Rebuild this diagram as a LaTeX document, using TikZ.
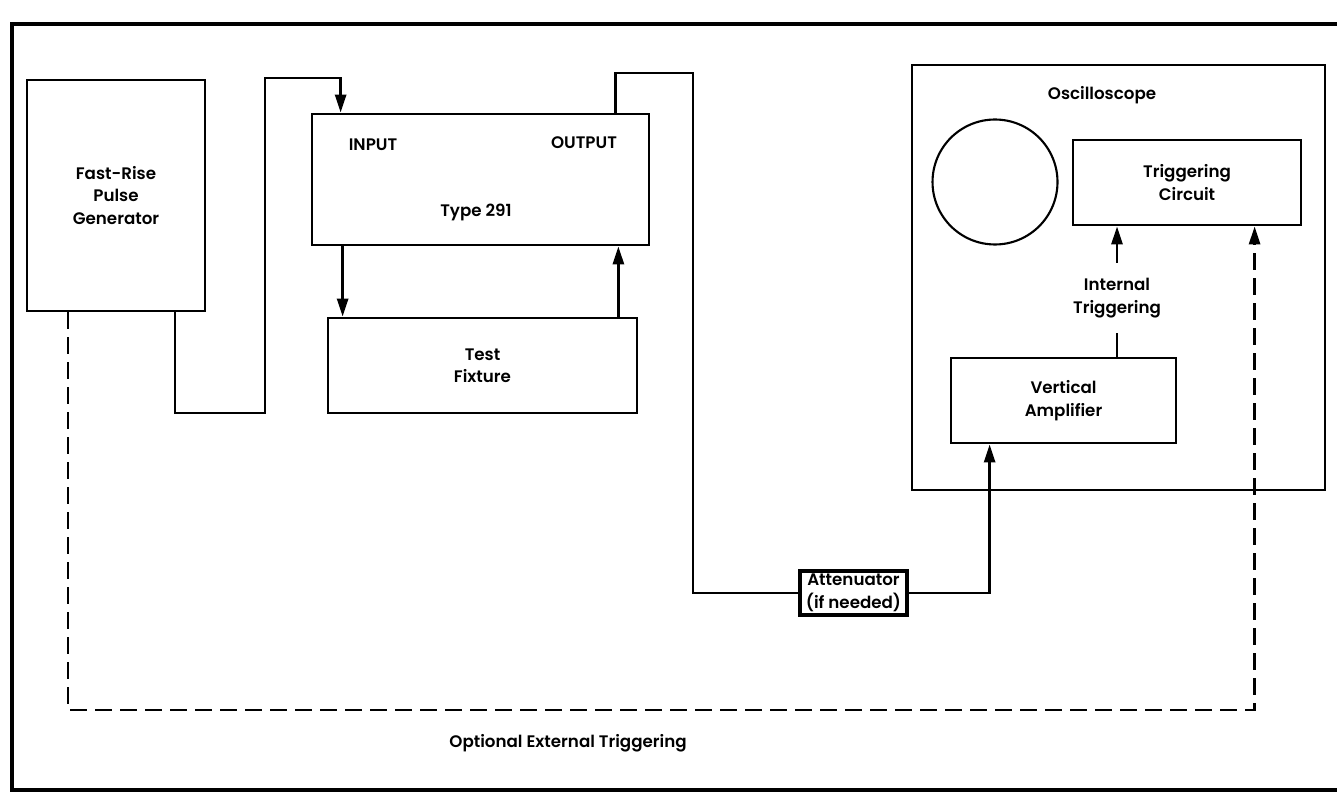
\documentclass[tikz,border=0pt]{standalone}
\usepackage{fontspec}
\setmainfont{Poppins SemiBold}
\usetikzlibrary{arrows.meta, positioning, calc}

\begin{document}
\begin{tikzpicture}[
    x=0.02cm, y=-0.02cm,
    block/.style={rectangle, draw, line width=1.6pt, align=center, inner sep=0pt, font=\fontsize{9.5}{12.8}\selectfont},
    tag/.style={align=center, inner sep=0pt, font=\fontsize{9.5}{12.8}\selectfont},
    wire/.style={draw, line width=1.6pt},
    line/.style={draw, line width=1.6pt, -{Triangle[length=3.6mm,width=2.2mm]}},
    dashline/.style={draw, line width=1.6pt, dash pattern=on 0.34cm off 0.16cm}
]
    \useasboundingbox (0,0) rectangle (1337,800);

    % Frame
    \draw[line width=2.6pt] (1337,24) -| (12,790) -- (1337,790);

    % Nodes
    \node[block, minimum width=3.56cm, minimum height=4.62cm] (gen) at (116,195.5) {Fast-Rise\\Pulse\\Generator};
    \node[block, minimum width=6.74cm, minimum height=2.62cm] (t291) at (480.5,179.5) {};
    \node[tag] (t291in) at (373,145) {INPUT};
    \node[tag] (t291out) at (584,143) {OUTPUT};
    \node[tag] (t291type) at (476,212) {Type 291};
    \node[block, minimum width=6.18cm, minimum height=1.9cm] (fix) at (482.5,365.5) {Test\\Fixture};
    \node[block, minimum width=2.14cm, minimum height=0.88cm, line width=1.9pt] (att) at (853.5,593) {Attenuator\\(if needed)};

    \node[block, minimum width=8.26cm, minimum height=8.5cm] (scope) at (1118.5,277.5) {};
    \node[tag] (scopetag) at (1102,95) {Oscilloscope};
    \node[draw, circle, line width=1.2pt, minimum size=2.5cm] (crt) at (995,182) {};
    \node[block, minimum width=4.56cm, minimum height=1.7cm] (trig) at (1187,182.5) {Triggering\\Circuit};
    \node[block, minimum width=4.5cm, minimum height=1.7cm] (vamp) at (1063.5,400.5) {Vertical\\Amplifier};
    \node[tag, minimum height=1.4cm] (intl) at (1117,298) {Internal\\Triggering};
    \node[tag] (ext) at (568,743) {Optional External Triggering};

    % Connections
    \coordinate (g1) at (175,413);
    \coordinate (g2) at (265,78);
    \coordinate (inp) at ([xshift=0.6cm]t291.north west);
    \path[line] (gen.south -| g1) -- (g1) -| (g2) -| (inp);

    \coordinate (dn) at ([xshift=0.64cm]t291.south west);
    \path[line] (dn) -- (dn |- fix.north);
    \coordinate (up) at ([xshift=-0.4cm]fix.north east);
    \path[line] (up) -- (up |- t291.south);

    \coordinate (outp) at ([xshift=-0.7cm]t291.north east);
    \coordinate (o1) at (693,73);
    \path[wire] (outp) |- (o1) |- (att.west);
    \coordinate (vin) at ([xshift=0.8cm]vamp.south west);
    \path[line] (att.east) -| (vin);

    \path[wire] (vamp.north -| intl) -- (intl.south);
    \path[line] (intl.north) -- (intl.north |- trig.south);

    % External triggering
    \coordinate (d1) at (68,710);
    \coordinate (dt) at ([xshift=3.66cm]trig.south west);
    \path[dashline, -{Triangle[length=3.6mm,width=2.2mm]}] (gen.south -| d1) -- (d1) -| (dt);
\end{tikzpicture}
\end{document}
